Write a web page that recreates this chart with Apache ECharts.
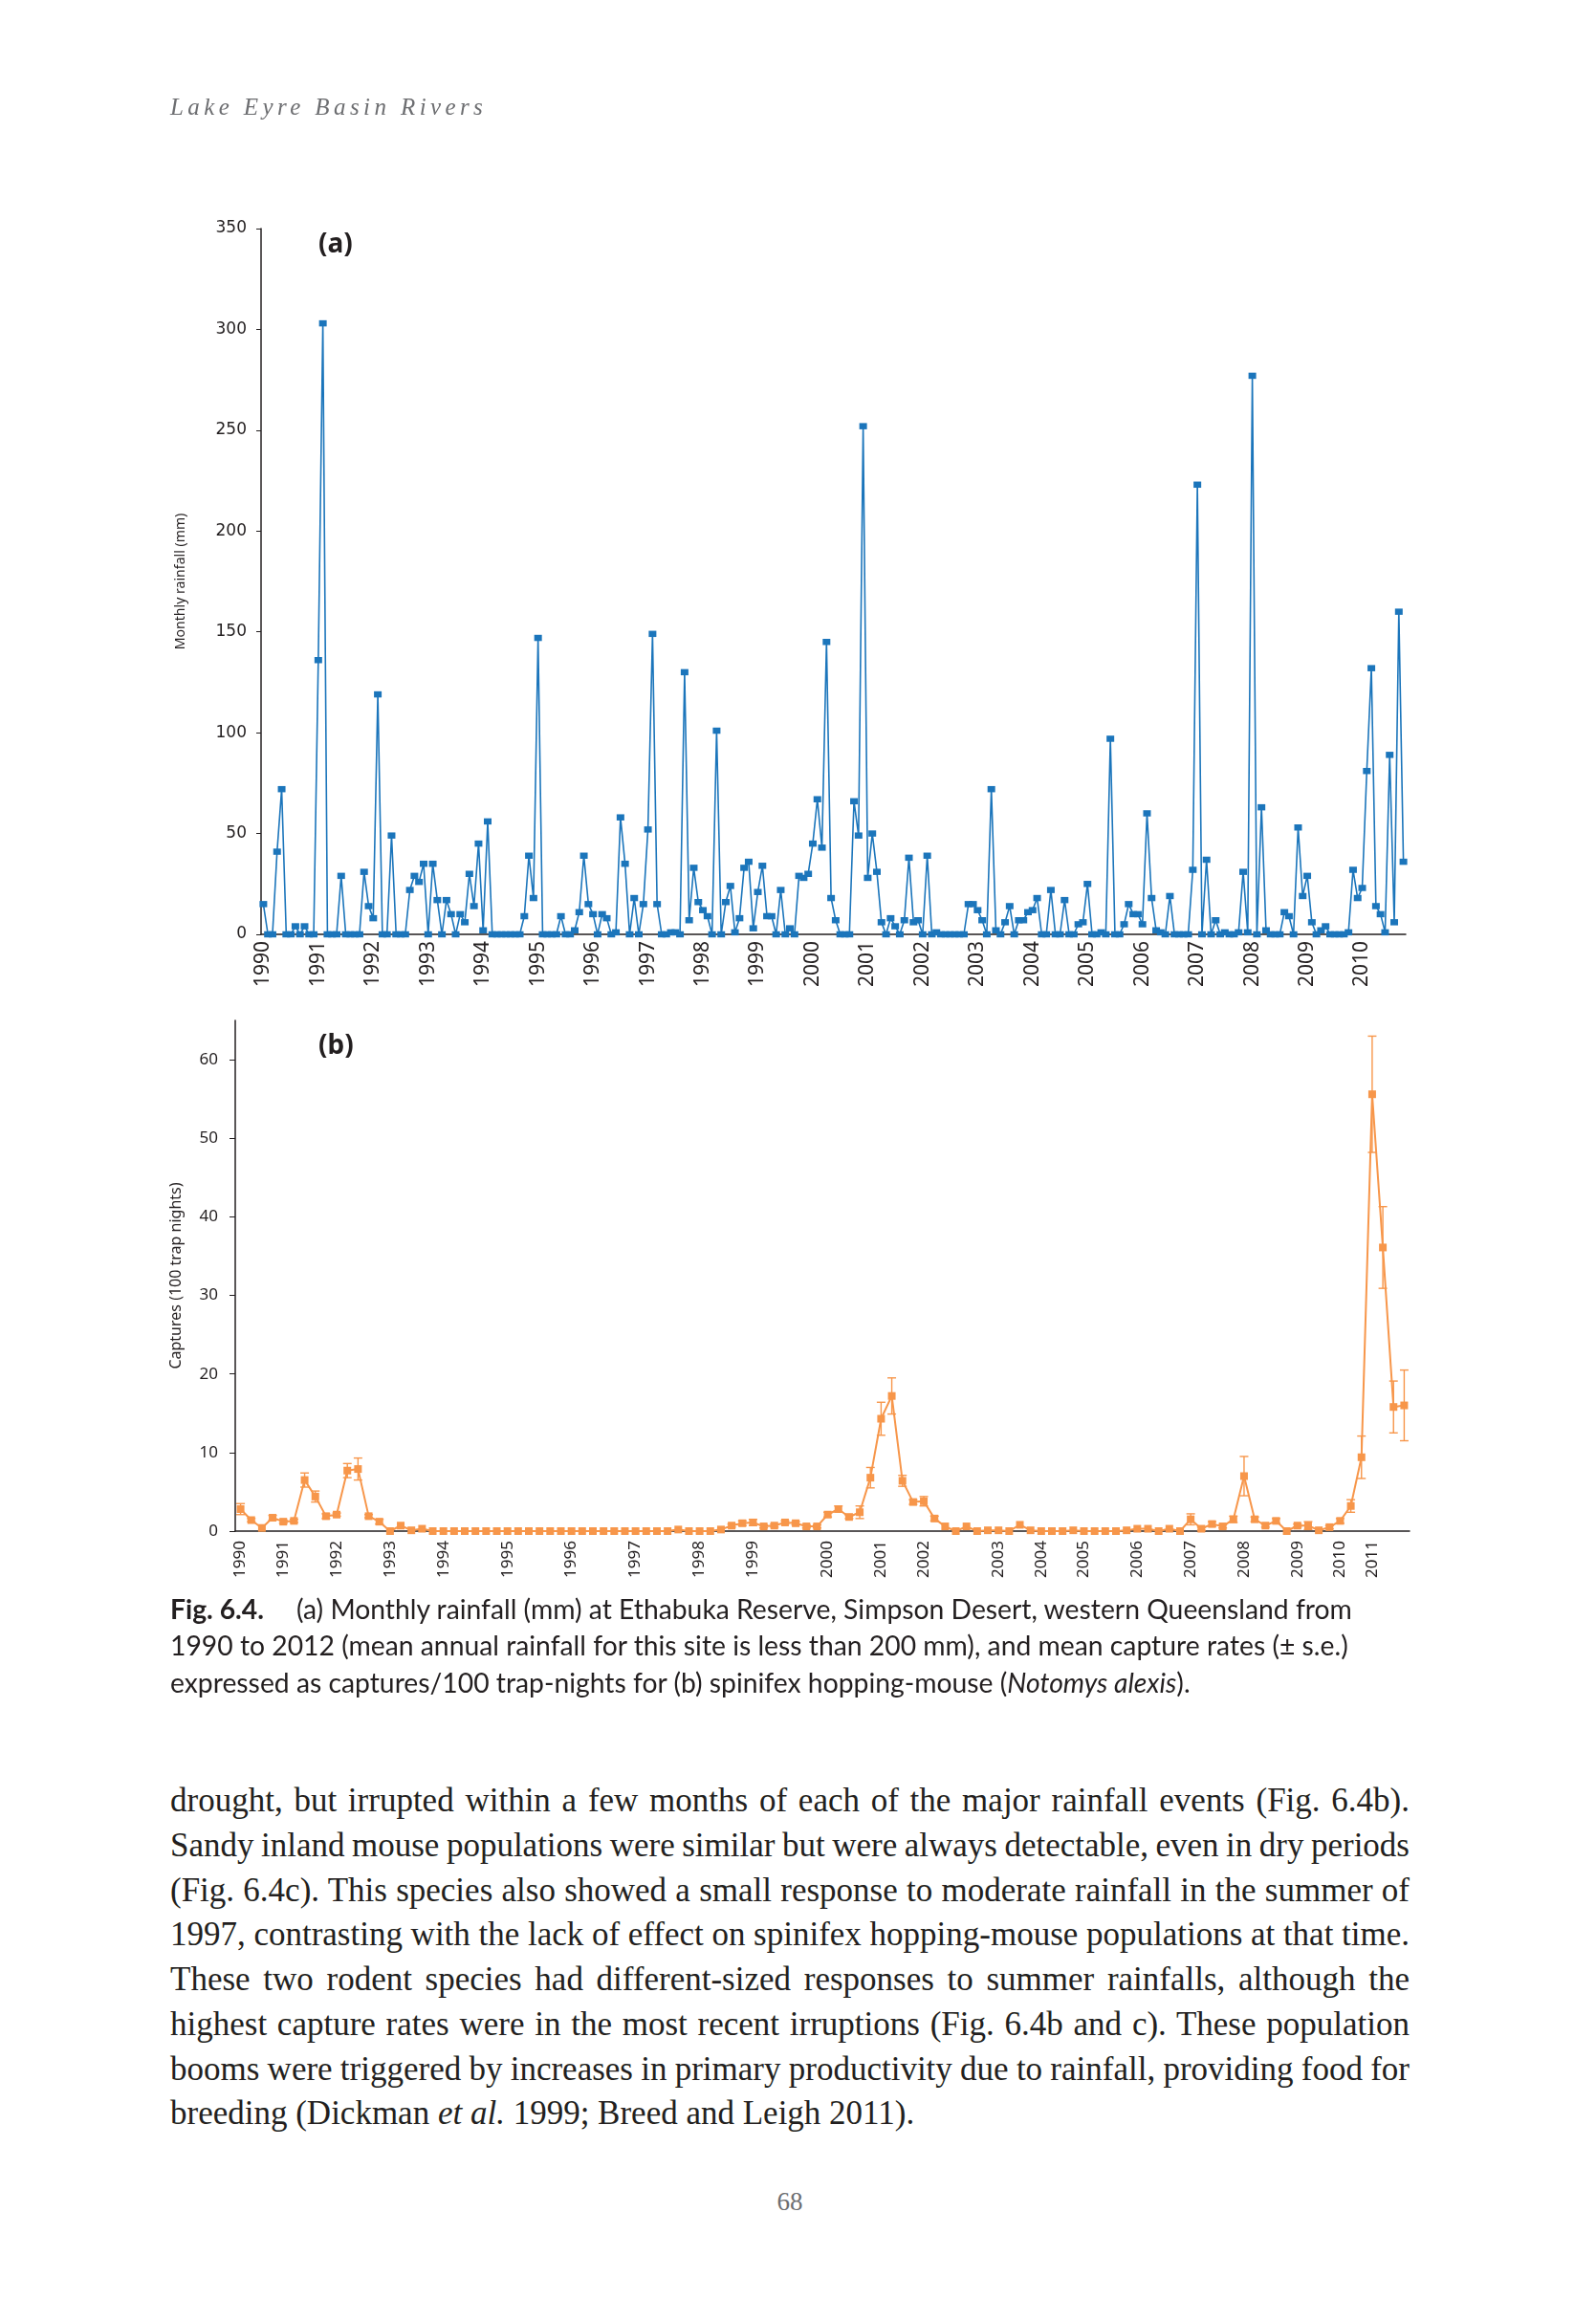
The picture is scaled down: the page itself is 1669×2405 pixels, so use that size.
<!DOCTYPE html>
<html><head><meta charset="utf-8">
<script src="https://cdn.jsdelivr.net/npm/echarts@6/dist/echarts.min.js"></script>
<style>
html,body{margin:0;padding:0;background:#fff;}
#page{position:relative;width:1669px;height:2405px;overflow:hidden;background:#fff;}
#chart{position:absolute;left:0;top:0;width:1669px;height:1680px;}
.t{position:absolute;white-space:nowrap;color:#231f20;}
.hdr{left:178px;top:95px;line-height:34px;font-family:'Liberation Serif',serif;font-style:italic;font-size:25px;letter-spacing:4.4px;color:#6d6e71;}
.pl{font-family:'Noto Sans',sans-serif;font-weight:bold;font-size:28px;line-height:36px;left:333px;}
.cap{font-family:Lato,'Noto Sans',sans-serif;font-size:28.3px;line-height:38px;}
.bl{position:absolute;left:178px;white-space:nowrap;font-family:'Liberation Serif',serif;font-size:35px;line-height:46px;color:#231f20;}
.pn{left:0;width:1652px;text-align:center;top:2284px;font-family:'Liberation Serif',serif;font-size:27px;line-height:36px;color:#6d6e71;}
</style></head>
<body><div id="page">
<div id="chart"></div>
<div class="t hdr">Lake Eyre Basin Rivers</div>
<div class="t pl" style="top:235px;">(a)</div>
<div class="t pl" style="top:1073px;">(b)</div>
<div class="t cap" style="left:178px;top:1663px;"><b>Fig. 6.4.</b></div>
<div class="t cap" style="left:310px;top:1663px;">(a) Monthly rainfall (mm) at Ethabuka Reserve, Simpson Desert, western Queensland from</div>
<div class="t cap" style="left:178px;top:1701px;">1990 to 2012 (mean annual rainfall for this site is less than 200 mm), and mean capture rates (± s.e.)</div>
<div class="t cap" style="left:178px;top:1740px;">expressed as captures/100 trap-nights for (b) spinifex hopping-mouse (<i>Notomys alexis</i>).</div>
<div class="bl just" style="top:1860px;">drought, but irrupted within a few months of each of the major rainfall events (Fig. 6.4b).</div>
<div class="bl just" style="top:1907px;">Sandy inland mouse populations were similar but were always detectable, even in dry periods</div>
<div class="bl just" style="top:1954px;">(Fig. 6.4c). This species also showed a small response to moderate rainfall in the summer of</div>
<div class="bl just" style="top:2000px;">1997, contrasting with the lack of effect on spinifex hopping-mouse populations at that time.</div>
<div class="bl just" style="top:2047px;">These two rodent species had different-sized responses to summer rainfalls, although the</div>
<div class="bl just" style="top:2094px;">highest capture rates were in the most recent irruptions (Fig. 6.4b and c). These population</div>
<div class="bl just" style="top:2141px;">booms were triggered by increases in primary productivity due to rainfall, providing food for</div>
<div class="bl" style="top:2187px;">breeding (Dickman <i>et al.</i> 1999; Breed and Leigh 2011).</div>
<div class="t pn">68</div>
</div>
<script>
// ---- Data: (a) monthly rainfall (mm), Jan 1990 onwards ----
const rainYears = ['1990','1991','1992','1993','1994','1995','1996','1997','1998','1999','2000',
  '2001','2002','2003','2004','2005','2006','2007','2008','2009','2010'];
const rainfall = [
  15,0,0,41,72,0,0,4,0,4,0,0,
  136,303,0,0,0,29,0,0,0,0,31,14,
  8,119,0,0,49,0,0,0,22,29,26,35,
  0,35,17,0,17,10,0,10,6,30,14,45,
  2,56,0,0,0,0,0,0,0,9,39,18,
  147,0,0,0,0,9,0,0,2,11,39,15,
  10,0,10,8,0,1,58,35,0,18,0,15,
  52,149,15,0,0,1,1,0,130,7,33,16,
  12,9,0,101,0,16,24,1,8,33,36,3,
  21,34,9,9,0,22,0,3,0,29,28,30,
  45,67,43,145,18,7,0,0,0,66,49,252,
  28,50,31,6,0,8,4,0,7,38,6,7,
  0,39,0,1,0,0,0,0,0,0,15,15,
  12,7,0,72,2,0,6,14,0,7,7,11,
  12,18,0,0,22,0,0,17,0,0,5,6,
  25,0,0,1,0,97,0,0,5,15,10,10,
  5,60,18,2,1,0,19,0,0,0,0,32,
  223,0,37,0,7,0,1,0,0,1,31,1,
  277,0,63,2,0,0,0,11,9,0,53,19,
  29,6,0,2,4,0,0,0,0,1,32,18,
  23,81,132,14,10,1,89,6,160,36
];
const rainTicks = [0,50,100,150,200,250,300,350];

// ---- Data: (b) captures per trapping session ----
const captureValues = [
  2.8,1.4,0.4,1.7,1.2,1.3,6.5,4.4,1.9,2.1,7.7,7.9,1.9,1.2,0,0.7,0.1,0.3,
  0,0,0,0,0,0,0,0,0,0,0,0,0,0,0,0,0,0,0,0,0,0,0,
  0.2,0,0,0,
  0.2,0.7,1.0,1.1,0.6,0.7,1.1,1.0,0.6,0.6,2.1,2.8,1.8,2.4,6.8,14.3,17.2,6.4,3.7,3.8,1.6,0.6,
  0,0.6,0,0.1,0.1,0,0.8,0.1,0,0,0,0.1,0,0,0,0,0.1,0.3,0.3,0,0.3,0,
  1.5,0.3,0.9,0.6,1.5,7.0,1.5,0.7,1.3,0,0.7,0.7,0.1,0.5,1.3,3.2,9.4,55.6,36.1,15.8,16.0
];
const captureSE = [
  0.7,0.2,0,0.3,0.2,0.2,0.9,0.7,0.3,0.2,0.9,1.4,0.2,0.3,
  0,0,0,0,0,0,0,0,0,0,0,0,0,0,0,0,0,0,0,0,0,0,0,0,0,0,0,0,0,0,0,0,
  0.2,0.3,0.4,0.2,0.2,0.2,0.2,0.2,0.2,0.3,0.4,0.2,0.8,1.3,2.1,2.3,0.7,0.3,0.6,0.3,
  0,0,0,0,0,0,0,0,0,0,0,0,0,0,0,0,0,0,0,0,0,0,0,
  0.7,0.2,0.3,0.2,0.4,2.5,0.3,0.2,0.3,0,0.2,0.5,0,0.2,0.3,0.8,2.7,7.4,5.2,3.3,4.5
];
const captureYearIdx = [0,4,9,14,19,25,31,37,43,48,55,60,64,71,75,79,84,89,94,99,103,106];
const captureYearLabels = ['1990','1991','1992','1993','1994','1995','1996','1997','1998','1999','2000',
  '2001','2002','2003','2004','2005','2006','2007','2008','2009','2010','2011'];
const captureTicks = [0,10,20,30,40,50,60];

// ---- justify body lines to the text block width ----
const BODY_W = 1296;
document.querySelectorAll('.bl.just').forEach(el => {
  const natural = el.getBoundingClientRect().width;
  const spaces = (el.textContent.match(/ /g) || []).length;
  if (spaces > 0) el.style.wordSpacing = ((BODY_W - natural) / spaces) + 'px';
});

// ---- build ----
const months = [];
rainYears.forEach(y => { for (let m = 1; m <= 12; m++) months.push(y + '-' + (m < 10 ? '0' + m : m)); });
const monthCats = months.slice(0, rainfall.length);
const sessions = captureValues.map((v, i) => 'S' + i);
const yearAt = {};
captureYearIdx.forEach((k, j) => { yearAt[k] = captureYearLabels[j]; });
const errData = [];
captureValues.forEach((v, i) => { if (captureSE[i] > 0) errData.push([i, v - captureSE[i], v + captureSE[i]]); });

const ink = '#231f20', blue = '#1b75bb', orange = '#f7964a';
const chart = echarts.init(document.getElementById('chart'), null, {renderer: 'canvas'});
chart.setOption({
  animation: false,
  grid: [
    {left: 273, top: 239, width: 1197, height: 738},
    {left: 246, top: 1067, width: 1228, height: 534}
  ],
  xAxis: [
    {type: 'category', gridIndex: 0, data: monthCats, boundaryGap: true,
     axisLine: {lineStyle: {color: ink, width: 1.5}},
     axisTick: {interval: 0, length: 4, lineStyle: {color: ink, width: 1}},
     axisLabel: {interval: (i) => i % 12 === 0, formatter: (v) => v.slice(0, 4), rotate: 90,
       fontFamily: 'Noto Sans', fontSize: 21, color: ink, margin: 7}},
    {type: 'category', gridIndex: 1, data: sessions, boundaryGap: true,
     axisLine: {lineStyle: {color: ink, width: 1.5}},
     axisTick: {interval: 0, length: 7, lineStyle: {color: ink, width: 1}},
     axisLabel: {interval: (i) => yearAt[i] !== undefined, formatter: (v, i) => yearAt[i] || '', rotate: 90,
       fontFamily: 'Noto Sans', fontSize: 17, color: ink, margin: 10}}
  ],
  yAxis: [
    {type: 'value', gridIndex: 0, min: 0, max: 350, interval: 50,
     name: 'Monthly rainfall (mm)', nameLocation: 'middle', nameRotate: 90, nameGap: 77,
     nameTextStyle: {fontFamily: 'Noto Sans', fontSize: 14.1, color: ink},
     axisLine: {show: true, lineStyle: {color: ink, width: 1.5}},
     axisTick: {show: true, length: 5, lineStyle: {color: ink}, customValues: rainTicks},
     axisLabel: {fontFamily: 'DejaVu Sans', fontSize: 17, color: ink, margin: 15, customValues: rainTicks},
     splitLine: {show: false}},
    {type: 'value', gridIndex: 1, min: 0, max: 65,
     name: 'Captures (100 trap nights)', nameLocation: 'middle', nameRotate: 90, nameGap: 54,
     nameTextStyle: {fontFamily: 'Noto Sans', fontSize: 16, color: ink},
     axisLine: {show: true, lineStyle: {color: ink, width: 1.5}},
     axisTick: {show: true, length: 6, lineStyle: {color: ink}, customValues: captureTicks},
     axisLabel: {fontFamily: 'Noto Sans', fontSize: 17, color: ink, margin: 18, customValues: captureTicks},
     splitLine: {show: false}}
  ],
  series: [
    {type: 'line', xAxisIndex: 0, yAxisIndex: 0, data: rainfall,
     symbol: 'rect', symbolSize: [8, 6.5], showAllSymbol: true,
     itemStyle: {color: blue}, lineStyle: {color: blue, width: 1.6}},
    {type: 'custom', xAxisIndex: 1, yAxisIndex: 1, data: errData, encode: {x: 0, y: [1, 2]}, z: 1,
     renderItem: function (params, api) {
       const x = api.value(0);
       const p1 = api.coord([x, api.value(1)]);
       const p2 = api.coord([x, api.value(2)]);
       const w = 4.5;
       const st = {stroke: orange, lineWidth: 1.4};
       return {type: 'group', children: [
         {type: 'line', shape: {x1: p1[0], y1: p1[1], x2: p2[0], y2: p2[1]}, style: st},
         {type: 'line', shape: {x1: p1[0] - w, y1: p1[1], x2: p1[0] + w, y2: p1[1]}, style: st},
         {type: 'line', shape: {x1: p2[0] - w, y1: p2[1], x2: p2[0] + w, y2: p2[1]}, style: st}
       ]};
     }},
    {type: 'line', xAxisIndex: 1, yAxisIndex: 1, data: captureValues, z: 3,
     symbol: 'rect', symbolSize: 8, showAllSymbol: true,
     itemStyle: {color: orange}, lineStyle: {color: orange, width: 2}}
  ]
});
</script>
</body></html>
